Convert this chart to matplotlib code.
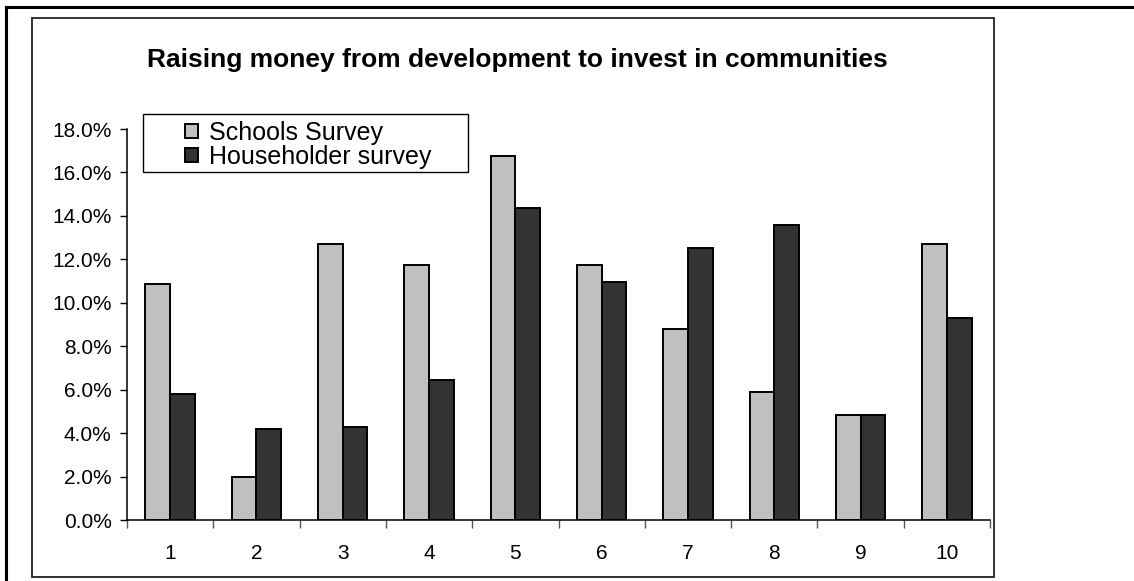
import numpy as np
import matplotlib.pyplot as plt
from matplotlib.patches import Rectangle
from matplotlib.lines import Line2D
from matplotlib.ticker import PercentFormatter

plt.rcParams['font.family'] = ['Liberation Sans', 'DejaVu Sans']

# Survey results (share of responses, %)
categories = ['1', '2', '3', '4', '5', '6', '7', '8', '9', '10']
schools = [10.85, 2.0, 12.7, 11.75, 16.75, 11.75, 8.8, 5.9, 4.85, 12.7]
householders = [5.8, 4.2, 4.3, 6.45, 14.35, 10.95, 12.5, 13.6, 4.85, 9.3]
series_names = ['Schools Survey', 'Householder survey']
series_colors = ['#c0c0c0', '#333333']

fig = plt.figure(figsize=(11.34, 5.81), dpi=100)
W, H = 1134, 581


def px(x0, y0):
    # pixel position (from top-left) -> figure fraction
    return x0 / W, 1 - y0 / H


# outer page lines (top + left) and the chart frame
fig.add_artist(Line2D([6 / W, 1], [1 - 7 / H, 1 - 7 / H], color='black', lw=2.2,
                      transform=fig.transFigure))
fig.add_artist(Line2D([6 / W, 6 / W], [1 - 7 / H, 0], color='black', lw=2.2,
                      transform=fig.transFigure))
fig.add_artist(Rectangle(px(32, 577), (994 - 32) / W, (577 - 18) / H,
                         fill=False, edgecolor='#222222', lw=1.3,
                         transform=fig.transFigure))

ax = fig.add_axes([127 / W, 1 - 520 / H, (990 - 127) / W, (520 - 129) / H])

x = np.arange(len(categories))
width = 1 / 3.5
for i, (vals, name, col) in enumerate(zip([schools, householders], series_names, series_colors)):
    ax.bar(x + (i - 0.5) * width, vals, width, color=col, edgecolor='black',
           linewidth=1.4, label=name, zorder=3)

ax.set_xlim(-0.5, len(categories) - 0.5)
ax.set_ylim(0, 18)
ax.set_yticks(np.arange(0, 18.1, 2))
ax.yaxis.set_major_formatter(PercentFormatter(decimals=1))
ax.tick_params(axis='y', direction='out', length=5, width=1, labelsize=15, pad=6)

# ticks between the groups, labels under each group
ax.set_xticks(np.arange(-0.5, len(categories)), labels=[''] * (len(categories) + 1))
ax.set_xticks(x, labels=categories, minor=True)
ax.tick_params(axis='x', which='major', direction='out', length=6, width=1, color='#555555')
ax.tick_params(axis='x', which='minor', length=0, labelsize=15, pad=17)

for side in ['top', 'right']:
    ax.spines[side].set_visible(False)
for side in ['left', 'bottom']:
    ax.spines[side].set_linewidth(1.1)

fig.text(517 / W, 1 - 60 / H, 'Raising money from development to invest in communities',
         ha='center', va='center', fontsize=19, fontweight='bold')

# legend: boxed area with the entries set in from the left
ax.add_patch(Rectangle(px(143, 172), (468 - 143) / W, (172 - 114) / H,
                       facecolor='white', edgecolor='black', lw=1.0,
                       transform=fig.transFigure, clip_on=False, zorder=4))
leg = ax.legend(loc='upper left', bbox_to_anchor=px(185, 121),
                bbox_transform=fig.transFigure,
                fontsize=18, frameon=False,
                handlelength=0.5, handleheight=0.5, handletextpad=0.45,
                labelspacing=0.0, borderpad=0.0, borderaxespad=0)
leg.set_zorder(5)

fig.savefig('out.png', dpi=100)
